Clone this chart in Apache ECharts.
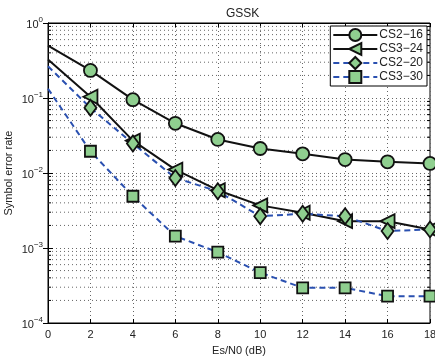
<!DOCTYPE html>
<html><head><meta charset="utf-8">
<script src="https://cdn.jsdelivr.net/npm/echarts@6/dist/echarts.min.js"></script>
<style>html,body{margin:0;padding:0;background:#fff}#c{width:435px;height:358px}</style>
</head><body><div id="c"></div>
<script>
const esn0 = [0, 2, 4, 6, 8, 10, 12, 14, 16, 18];
const cs216 = [0.50, 0.233, 0.095, 0.046, 0.028, 0.0212, 0.018, 0.0151, 0.0141, 0.0134];
const cs324 = [0.326, 0.104, 0.027, 0.0111, 0.0059, 0.0037, 0.00295, 0.00228, 0.00228, 0.00177];
const cs220 = [0.265, 0.074, 0.0247, 0.0086, 0.0057, 0.00265, 0.00286, 0.00265, 0.00168, 0.00177];
const cs330 = [0.133, 0.0195, 0.0049, 0.00144, 0.00088, 0.00047, 0.000294, 0.000294, 0.000228, 0.000228];
const seriesNames = ['CS2\u221216', 'CS3\u221224', 'CS2\u221220', 'CS3\u221230'];
const xTicks = [0, 2, 4, 6, 8, 10, 12, 14, 16, 18];
const yDecades = [1e-4, 1e-3, 1e-2, 1e-1, 1];
const minorVals = [];
for (let d = -4; d < 0; d++) for (let m = 2; m <= 9; m++) minorVals.push(m * Math.pow(10, d));

const FONT = 'Liberation Sans, Arial, Helvetica, sans-serif';
const GREEN = '#8fcf8f';
const BLUE = '#2a50b0';

function mk(vals, name, symbol, size, color, dashed, rotate) {
  return {
    name: name, type: 'line',
    data: vals.map((v, i) => i === 0 ? { value: [esn0[i], v], symbol: 'none' } : [esn0[i], v]),
    symbol: symbol, symbolSize: size, symbolRotate: rotate || 0,
    showAllSymbol: true,
    lineStyle: { color: color, width: 2, type: dashed ? [6, 4] : 'solid' },
    itemStyle: { color: GREEN, borderColor: '#111', borderWidth: 1.8 },
    emphasis: { disabled: true }, animation: false, z: 3
  };
}

const chart = echarts.init(document.getElementById('c'), null, { renderer: 'canvas' });
const labelRich = {
  b: { fontSize: 11, fontFamily: FONT, color: '#222', lineHeight: 15, verticalAlign: 'bottom' },
  s: { fontSize: 8, fontFamily: FONT, color: '#222', lineHeight: 15, verticalAlign: 'top' }
};
chart.setOption({
  animation: false,
  title: { text: 'GSSK', left: 221, top: 3, textStyle: { fontSize: 12, fontWeight: 'normal', fontFamily: FONT, color: '#222' } },
  grid: { left: 48, right: 5, top: 23, bottom: 35, show: true, borderColor: '#000', borderWidth: 1, backgroundColor: 'transparent', containLabel: false, outerBoundsMode: 'none' },
  legend: {
    orient: 'vertical', right: 8, top: 26, padding: [2, 4, 2, 2], itemGap: 0,
    itemWidth: 44, itemHeight: 15, backgroundColor: '#fff', borderColor: '#000', borderWidth: 1,
    textStyle: { fontSize: 12, fontFamily: FONT, color: '#222', padding: [0, 0, 0, -3] },
    data: seriesNames
  },
  xAxis: [{
    type: 'value', min: 0, max: 18, interval: 2,
    name: 'Es/N0 (dB)', nameLocation: 'middle', nameGap: 22, nameMoveOverlap: false,
    nameTextStyle: { fontSize: 11, fontFamily: FONT, color: '#222' },
    axisLine: { show: true, lineStyle: { color: '#000', width: 1 } },
    axisTick: { show: true, inside: true, length: 4, lineStyle: { color: '#000' } },
    axisLabel: { fontSize: 11, fontFamily: FONT, color: '#222', margin: 6 },
    splitLine: { show: true, lineStyle: { color: '#666', type: [1, 3], width: 1 } }
  }, {
    type: 'value', min: 0, max: 18, interval: 2, position: 'top',
    axisLine: { show: true, lineStyle: { color: '#000' } },
    axisTick: { show: true, inside: true, length: 4, lineStyle: { color: '#000' } },
    axisLabel: { show: false }, splitLine: { show: false }
  }],
  yAxis: [{
    type: 'log', logBase: 10, min: 1e-4, max: 1,
    name: 'Symbol error rate', nameLocation: 'middle', nameGap: 34, nameMoveOverlap: false,
    nameTextStyle: { fontSize: 11, fontFamily: FONT, color: '#222' },
    axisLine: { show: true, lineStyle: { color: '#000', width: 1 } },
    axisTick: { show: true, inside: true, length: 5, lineStyle: { color: '#000' } },
    axisLabel: {
      margin: 5, rich: labelRich,
      formatter: v => '{b|10}{s|' + String(Math.round(Math.log10(v))).replace('-', '\u2212') + '}'
    },
    splitLine: { show: true, lineStyle: { color: '#666', type: [1, 3], width: 1 } }
  }, {
    type: 'log', logBase: 10, min: 1e-4, max: 1, position: 'right',
    axisLine: { show: true, lineStyle: { color: '#000' } },
    axisTick: { show: true, inside: true, length: 5, lineStyle: { color: '#000' } },
    axisLabel: { show: false }, splitLine: { show: false }
  }],
  series: [
    {
      type: 'custom', name: 'minor', silent: true, z: 1, animation: false,
      data: minorVals.map(v => [0, v]), encode: { x: 0, y: 1 },
      renderItem: (params, api) => {
        const y = api.coord([0, api.value(1)])[1];
        const cs = params.coordSys;
        return {
          type: 'group', children: [
            { type: 'line', shape: { x1: cs.x, y1: y, x2: cs.x + cs.width, y2: y }, style: { stroke: '#666', lineDash: [1, 3], lineWidth: 1 } },
            { type: 'line', shape: { x1: cs.x, y1: y, x2: cs.x + 3, y2: y }, style: { stroke: '#000', lineWidth: 1 } },
            { type: 'line', shape: { x1: cs.x + cs.width - 3, y1: y, x2: cs.x + cs.width, y2: y }, style: { stroke: '#000', lineWidth: 1 } }
          ]
        };
      }
    },
    mk(cs216, seriesNames[0], 'circle', 13, '#111', false),
    mk(cs324, seriesNames[1], 'triangle', 14, '#111', false, 90),
    mk(cs220, seriesNames[2], 'diamond', [12, 16], BLUE, true),
    mk(cs330, seriesNames[3], 'rect', 11, BLUE, true)
  ]
});
</script></body></html>
